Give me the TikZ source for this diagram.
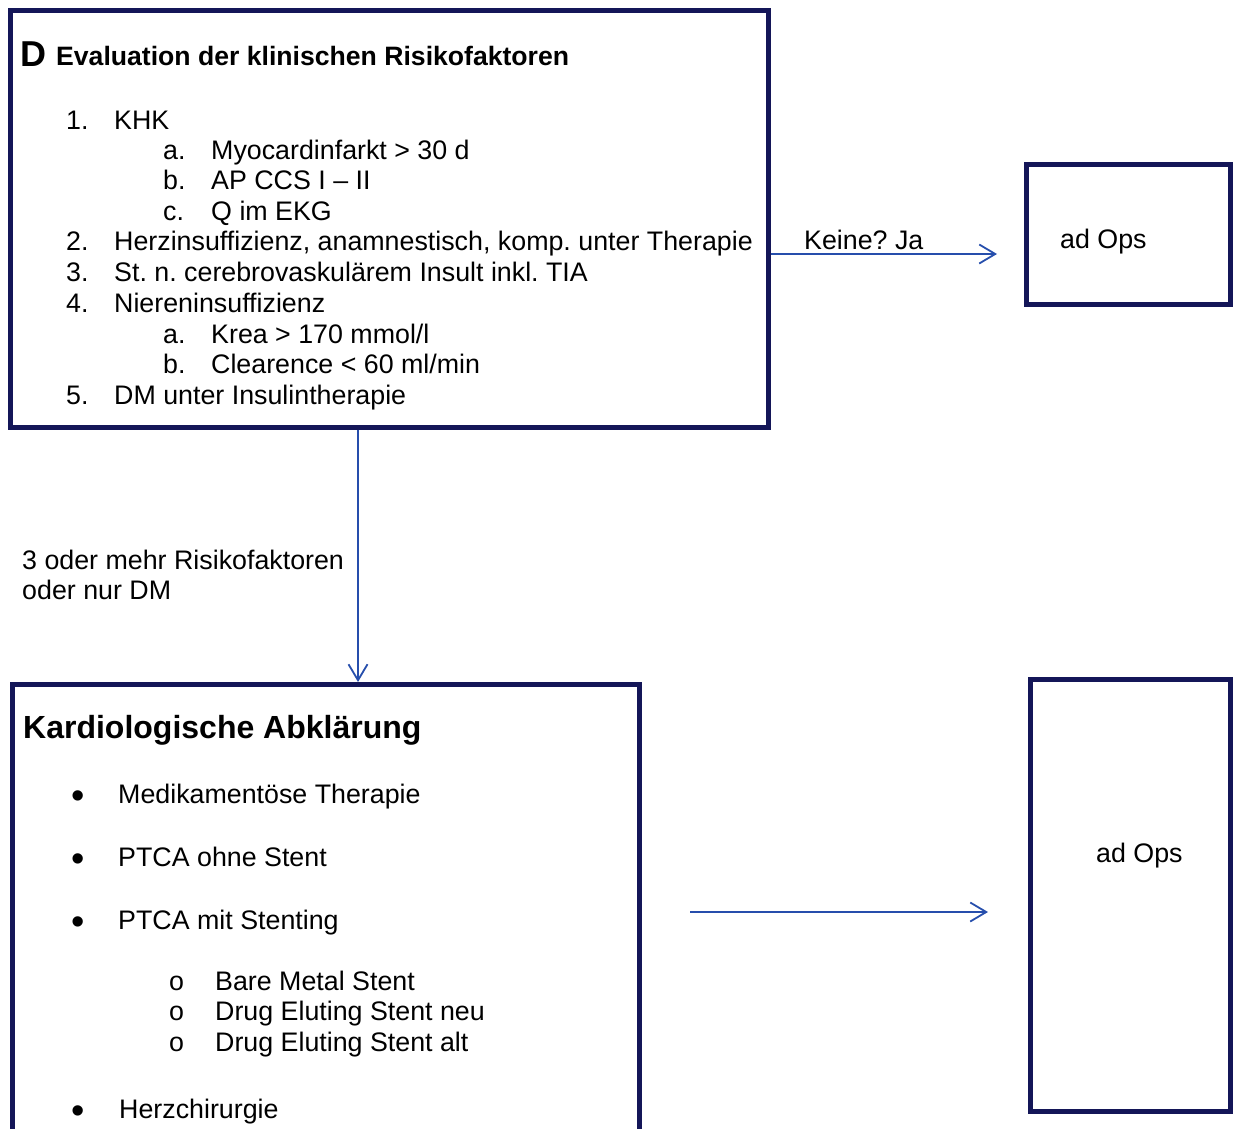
\documentclass[tikz,border=0pt]{standalone}
\usepackage{fontspec}
\setmainfont{Liberation Sans}
\usetikzlibrary{arrows.meta}
\definecolor{rahmen}{RGB}{20,22,88}
\definecolor{pfeilblau}{RGB}{38,78,172}
\newcommand{\punkt}[3][48pt]{\makebox[#1][l]{#2}#3}
\newcommand{\kreis}{\smash{\raisebox{-5pt}{\fontsize{38}{38}\selectfont •}}}
\tikzset{
  kasten/.style={draw=rahmen, line width=4.5pt, inner sep=0pt, anchor=north west},
  txt/.style={inner sep=0pt, anchor=base west, font=\fontsize{26.8}{30}\selectfont},
  pfeil/.style={draw=pfeilblau, line width=1.8pt, -{Straight Barb[length=16pt, width=19pt, line width=1.8pt]}}
}
\begin{document}
\frenchspacing
\begin{tikzpicture}[x=1pt, y=-1pt]
\useasboundingbox (0,0) rectangle (1234,1128);
\clip (0,0) rectangle (1234,1128);
% Kaesten
\node[kasten, minimum width=758pt, minimum height=417pt] (eval) at (8,8) {};
\node[kasten, minimum width=204pt, minimum height=140pt] (ops1) at (1024,162) {};
\node[kasten, minimum width=627pt, minimum height=480pt] (kardio) at (10,682) {};
\node[kasten, minimum width=200pt, minimum height=432pt] (ops2) at (1028,677) {};
% Risikofaktoren
\node[txt, font=\bfseries\fontsize{36}{40}\selectfont] (buchst) at (20,66) {D};
\node[txt, font=\bfseries\fontsize{26.6}{30}\selectfont] (titel) at (56,65) {Evaluation der klinischen Risikofaktoren};
\node[txt] (f1) at (66,129) {\punkt{1.}{KHK}};
\node[txt] (f1a) at (163,159) {\punkt{a.}{Myocardinfarkt > 30 d}};
\node[txt] (f1b) at (163,189) {\punkt{b.}{AP CCS I – II}};
\node[txt] (f1c) at (163,220) {\punkt{c.}{Q im EKG}};
\node[txt] (f2) at (66,250) {\punkt{2.}{Herzinsuffizienz, anamnestisch, komp. unter Therapie}};
\node[txt] (f3) at (66,281) {\punkt{3.}{St. n. cerebrovaskulärem Insult inkl. TIA}};
\node[txt] (f4) at (66,312) {\punkt{4.}{Niereninsuffizienz}};
\node[txt] (f4a) at (163,343) {\punkt{a.}{Krea > 170 mmol/l}};
\node[txt] (f4b) at (163,373) {\punkt{b.}{Clearence < 60 ml/min}};
\node[txt] (f5) at (66,404) {\punkt{5.}{DM unter Insulintherapie}};
% Kardiologie
\node[txt, font=\bfseries\fontsize{32}{36}\selectfont] (ktitel) at (23,738) {Kardiologische Abklärung};
\node[txt] (k1) at (71,803) {\punkt[47pt]{\kreis}{Medikamentöse Therapie}};
\node[txt] (k2) at (71,866) {\punkt[47pt]{\kreis}{PTCA ohne Stent}};
\node[txt] (k3) at (71,929) {\punkt[47pt]{\kreis}{PTCA mit Stenting}};
\node[txt] (k3a) at (169,990) {\punkt[46pt]{o}{Bare Metal Stent}};
\node[txt] (k3b) at (169,1020) {\punkt[46pt]{o}{Drug Eluting Stent neu}};
\node[txt] (k3c) at (169,1051) {\punkt[46pt]{o}{Drug Eluting Stent alt}};
\node[txt] (k4) at (71,1118) {\punkt[48pt]{\kreis}{Herzchirurgie}};
% ad Ops
\node[txt] (adops1) at (1060,248) {ad Ops};
\node[txt] (adops2) at (1096,862) {ad Ops};
\node[txt] (keine) at (804,249) {Keine? Ja};
\node[txt] (drei) at (22,569) {3 oder mehr Risikofaktoren};
\node[txt] (nurdm) at (22,599) {oder nur DM};
% Pfeile
\coordinate (ja) at (997,254);
\coordinate (runter) at (358,0);
\coordinate (weiter) at (690,912);
\coordinate (weiterziel) at (988,912);
\draw[pfeil] (eval.east |- ja) -- (ja);
\draw[pfeil] (runter |- eval.south) -- (runter |- kardio.north);
\draw[pfeil] (weiter) -- (weiterziel);
\end{tikzpicture}
\end{document}
